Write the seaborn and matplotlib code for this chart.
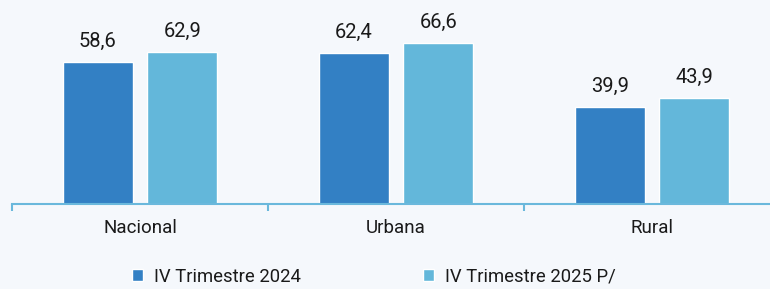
import matplotlib
matplotlib.use("Agg")
import matplotlib.pyplot as plt
import seaborn as sns
import pandas as pd

categories = ["Nacional", "Urbana", "Rural"]
series_names = ["IV Trimestre 2024", "IV Trimestre 2025 P/"]
values_2024 = [58.6, 62.4, 39.9]
values_2025 = [62.9, 66.6, 43.9]

colors = ["#3380c4", "#63b7da"]
bg = "#f5f8fc"

df = pd.DataFrame({
    "cat": categories * 2,
    "serie": [series_names[0]] * 3 + [series_names[1]] * 3,
    "val": values_2024 + values_2025,
})

sns.set_theme(style="white")
plt.rcParams["font.family"] = ["Roboto", "DejaVu Sans"]

fig = plt.figure(figsize=(7.7, 2.89), dpi=100, facecolor=bg)
ax = fig.add_axes([12 / 770, 85 / 289, 768 / 770, 204 / 289])
ax.set_facecolor(bg)

sns.barplot(data=df, x="cat", y="val", hue="serie", palette=colors,
            width=0.66, gap=0.17, saturation=1, ax=ax, legend=True)

for cont in ax.containers:
    labels = [f"{v:.1f}".replace(".", ",") for v in cont.datavalues]
    ax.bar_label(cont, labels=labels, padding=8, fontsize=14.5, color="#1a1a1a")

ax.set_xlim(-0.5, 2.5)
ax.set_ylim(0, 204 / 2.42)
ax.set_xlabel("")
ax.set_ylabel("")
ax.set_yticks([])
for s in ["top", "right", "left"]:
    ax.spines[s].set_visible(False)
ax.spines["bottom"].set_color("#6ab8dc")
ax.spines["bottom"].set_linewidth(1.5)

ax.set_xticks([0, 1, 2])
ax.set_xticklabels(categories, fontsize=13.5, color="#1a1a1a")
ax.tick_params(axis="x", which="major", length=0, pad=11)
ax.set_xticks([-0.5, 0.5, 1.5, 2.5], minor=True)
ax.tick_params(axis="x", which="minor", length=5, width=1.5, color="#6ab8dc", bottom=True)

handles, labels = ax.get_legend_handles_labels()
ax.get_legend().remove()
fig.legend(handles, labels, loc="center", bbox_to_anchor=(0.486, 0.042), ncol=2,
           frameon=False, fontsize=13.3, handlelength=0.6, handleheight=0.6,
           handletextpad=0.6, columnspacing=6.6, labelcolor="#1a1a1a")

fig.savefig("out.png", dpi=100, facecolor=bg)
